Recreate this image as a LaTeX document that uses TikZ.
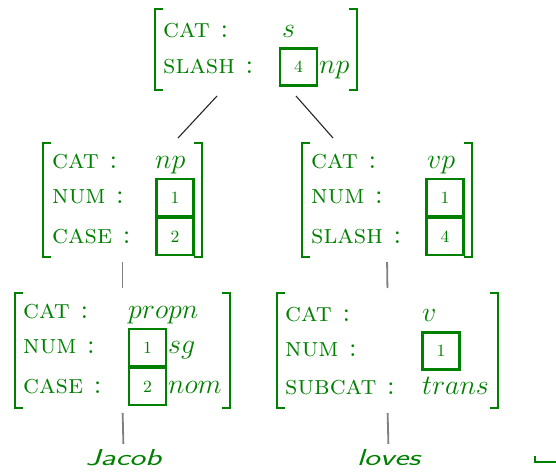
\RequirePackage{fix-cm}
\documentclass[tikz,border=0pt]{standalone}
\usepackage{tikz}
\usetikzlibrary{calc}

\definecolor{avmgreen}{RGB}{0,128,0}

\tikzset{
  avm/.style={inner sep=0pt, outer sep=0pt},
  brk/.style={avmgreen, line width=2pt},
  feat/.style={avmgreen, anchor=base west, inner sep=0pt, font=\fontsize{27}{32}\selectfont\scshape},
  val/.style={avmgreen, anchor=base west, inner sep=0pt, font=\fontsize{28}{32}\selectfont},
  tag/.style={avmgreen, draw, line width=2.2pt, inner sep=0pt, minimum size=19.5pt, scale=1.9, transform shape, font=\small},
  word/.style={avmgreen, anchor=base, inner sep=0pt, xscale=1.45, transform shape, font=\fontsize{23}{28}\selectfont\sffamily\slshape},
  branch/.style={black!85, line width=1.1pt},
  stem/.style={gray, line width=1.8pt, shorten <=5pt, shorten >=5pt},
}

\begin{document}
\begin{tikzpicture}[x=1pt, y=-1pt]
\useasboundingbox (0,0) rectangle (556,471);

% frames
\node[avm, minimum width=202pt, minimum height=81pt] (s) at (256,49.5) {};
\node[avm, minimum width=159pt, minimum height=114pt] (np) at (122.5,200) {};
\node[avm, minimum width=170pt, minimum height=114pt] (vp) at (387,200) {};
\node[avm, minimum width=215pt, minimum height=115pt] (propn) at (122.5,350.5) {};
\node[avm, minimum width=221pt, minimum height=115pt] (v) at (387.5,350.5) {};

\foreach \f in {s,np,vp,propn,v}{
  \draw[brk] ([xshift=8pt]\f.north west) -| (\f.south west) -- ++(8,0);
  \draw[brk] ([xshift=-8pt]\f.north east) -| (\f.south east) -- ++(-8,0);
}

% s
\node[feat] (s-cat) at (163,37) {cat :};
\node[feat] (s-slash) at (163,73) {slash :};
\node[val] (s-val) at (282,37) {$s$};
\node[tag] (s-tag) at (298.5,67) {4};
\node[val] (s-np) at (319,73) {$np$};

% np
\node[feat] (np-cat) at (52,168) {cat :};
\node[feat] (np-num) at (52,203) {num :};
\node[feat] (np-case) at (52,243) {case :};
\node[val] (np-val) at (155,168) {$np$};
\node[tag] (np-one) at (175,197.5) {1};
\node[tag] (np-two) at (175,236.5) {2};

% vp
\node[feat] (vp-cat) at (311,168) {cat :};
\node[feat] (vp-num) at (311,203) {num :};
\node[feat] (vp-slash) at (311,243) {slash :};
\node[val] (vp-val) at (427,168) {$vp$};
\node[tag] (vp-one) at (445,197.5) {1};
\node[tag] (vp-four) at (445,236.5) {4};

% propn
\node[feat] (pn-cat) at (23,318) {cat :};
\node[feat] (pn-num) at (23,353) {num :};
\node[feat] (pn-case) at (23,393) {case :};
\node[val] (pn-val) at (128,318) {$propn$};
\node[tag] (pn-one) at (147.5,347.5) {1};
\node[tag] (pn-two) at (147.5,386.5) {2};
\node[val] (pn-sg) at (168,353) {$sg$};
\node[val] (pn-nom) at (168,393) {$nom$};

% v
\node[feat] (v-cat) at (285,321) {cat :};
\node[feat] (v-num) at (285,356) {num :};
\node[feat] (v-subcat) at (285,394) {subcat :};
\node[val] (v-val) at (422,321) {$v$};
\node[tag] (v-one) at (441,351) {1};
\node[val] (v-trans) at (422,394) {$trans$};

% words
\node[word] (jacob) at (123.5,465) {Jacob};
\node[word] (loves) at (388.5,465) {loves};

% branches
\draw[branch] ($(s.south)+(-39,6)$) -- ($(np.north)+(55.5,-5)$);
\draw[branch] ($(s.south)+(40,6)$) -- ($(vp.north)+(-54,-5)$);
\draw[stem] (np.south) -- (propn.north);
\draw[stem] (vp.south) -- (v.north);
\draw[stem] (propn.south) -- (jacob.north);
\draw[stem] (v.south) -- (loves.north);

\draw[brk] (535,456) -- (535,462) -- (556,462);
\end{tikzpicture}
\end{document}
